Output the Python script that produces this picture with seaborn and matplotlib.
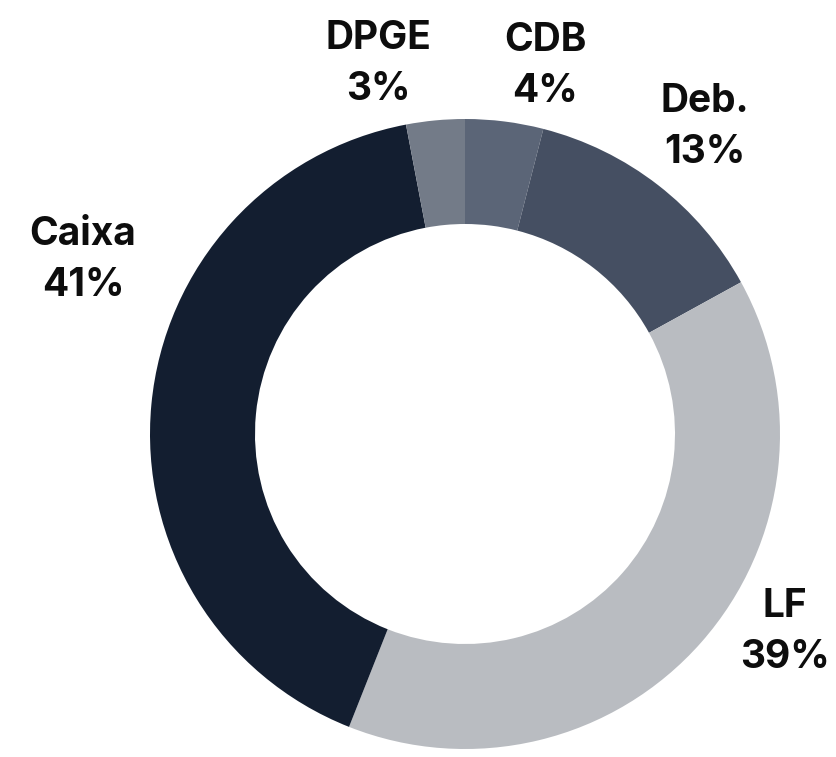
import matplotlib
matplotlib.use("Agg")
import matplotlib.pyplot as plt
import seaborn as sns

sns.set_theme(style="white")
plt.rcParams['font.family'] = ['Inter', 'DejaVu Sans']

# Data (clockwise from 12 o'clock)
categories = ["CDB", "Deb.", "LF", "Caixa", "DPGE"]
values = [4, 13, 39, 41, 3]
colors = ["#5b6577", "#454f62", "#b9bcc1", "#131e30", "#737b88"]

# label layout (pixel positions of label centers, top-origin)
label_pos = {
    "CDB": (545, 66),
    "Deb.": (705, 127),
    "LF": (785, 632),
    "Caixa": (83, 260),
    "DPGE": (378, 64),
}

W, H = 837, 757
fig = plt.figure(figsize=(W / 100, H / 100), dpi=100)
ax = fig.add_axes([0, 0, 1, 1])

cx, cy, R = 465, H - 434, 315
ax.pie(values, colors=colors, startangle=90, counterclock=False,
       center=(cx, cy), radius=R,
       wedgeprops=dict(width=R - 210, edgecolor="none", linewidth=0))

for cat, val in zip(categories, values):
    x, y = label_pos[cat]
    ax.text(x, H - y, f"{cat}\n{val}%", ha="center", va="center",
            fontsize=28, fontweight="bold", color="#0d0d0d", linespacing=1.5)

ax.set_xlim(0, W)
ax.set_ylim(0, H)
ax.set_aspect("auto")
ax.axis("off")
fig.savefig("out.png", dpi=100, facecolor="white")
